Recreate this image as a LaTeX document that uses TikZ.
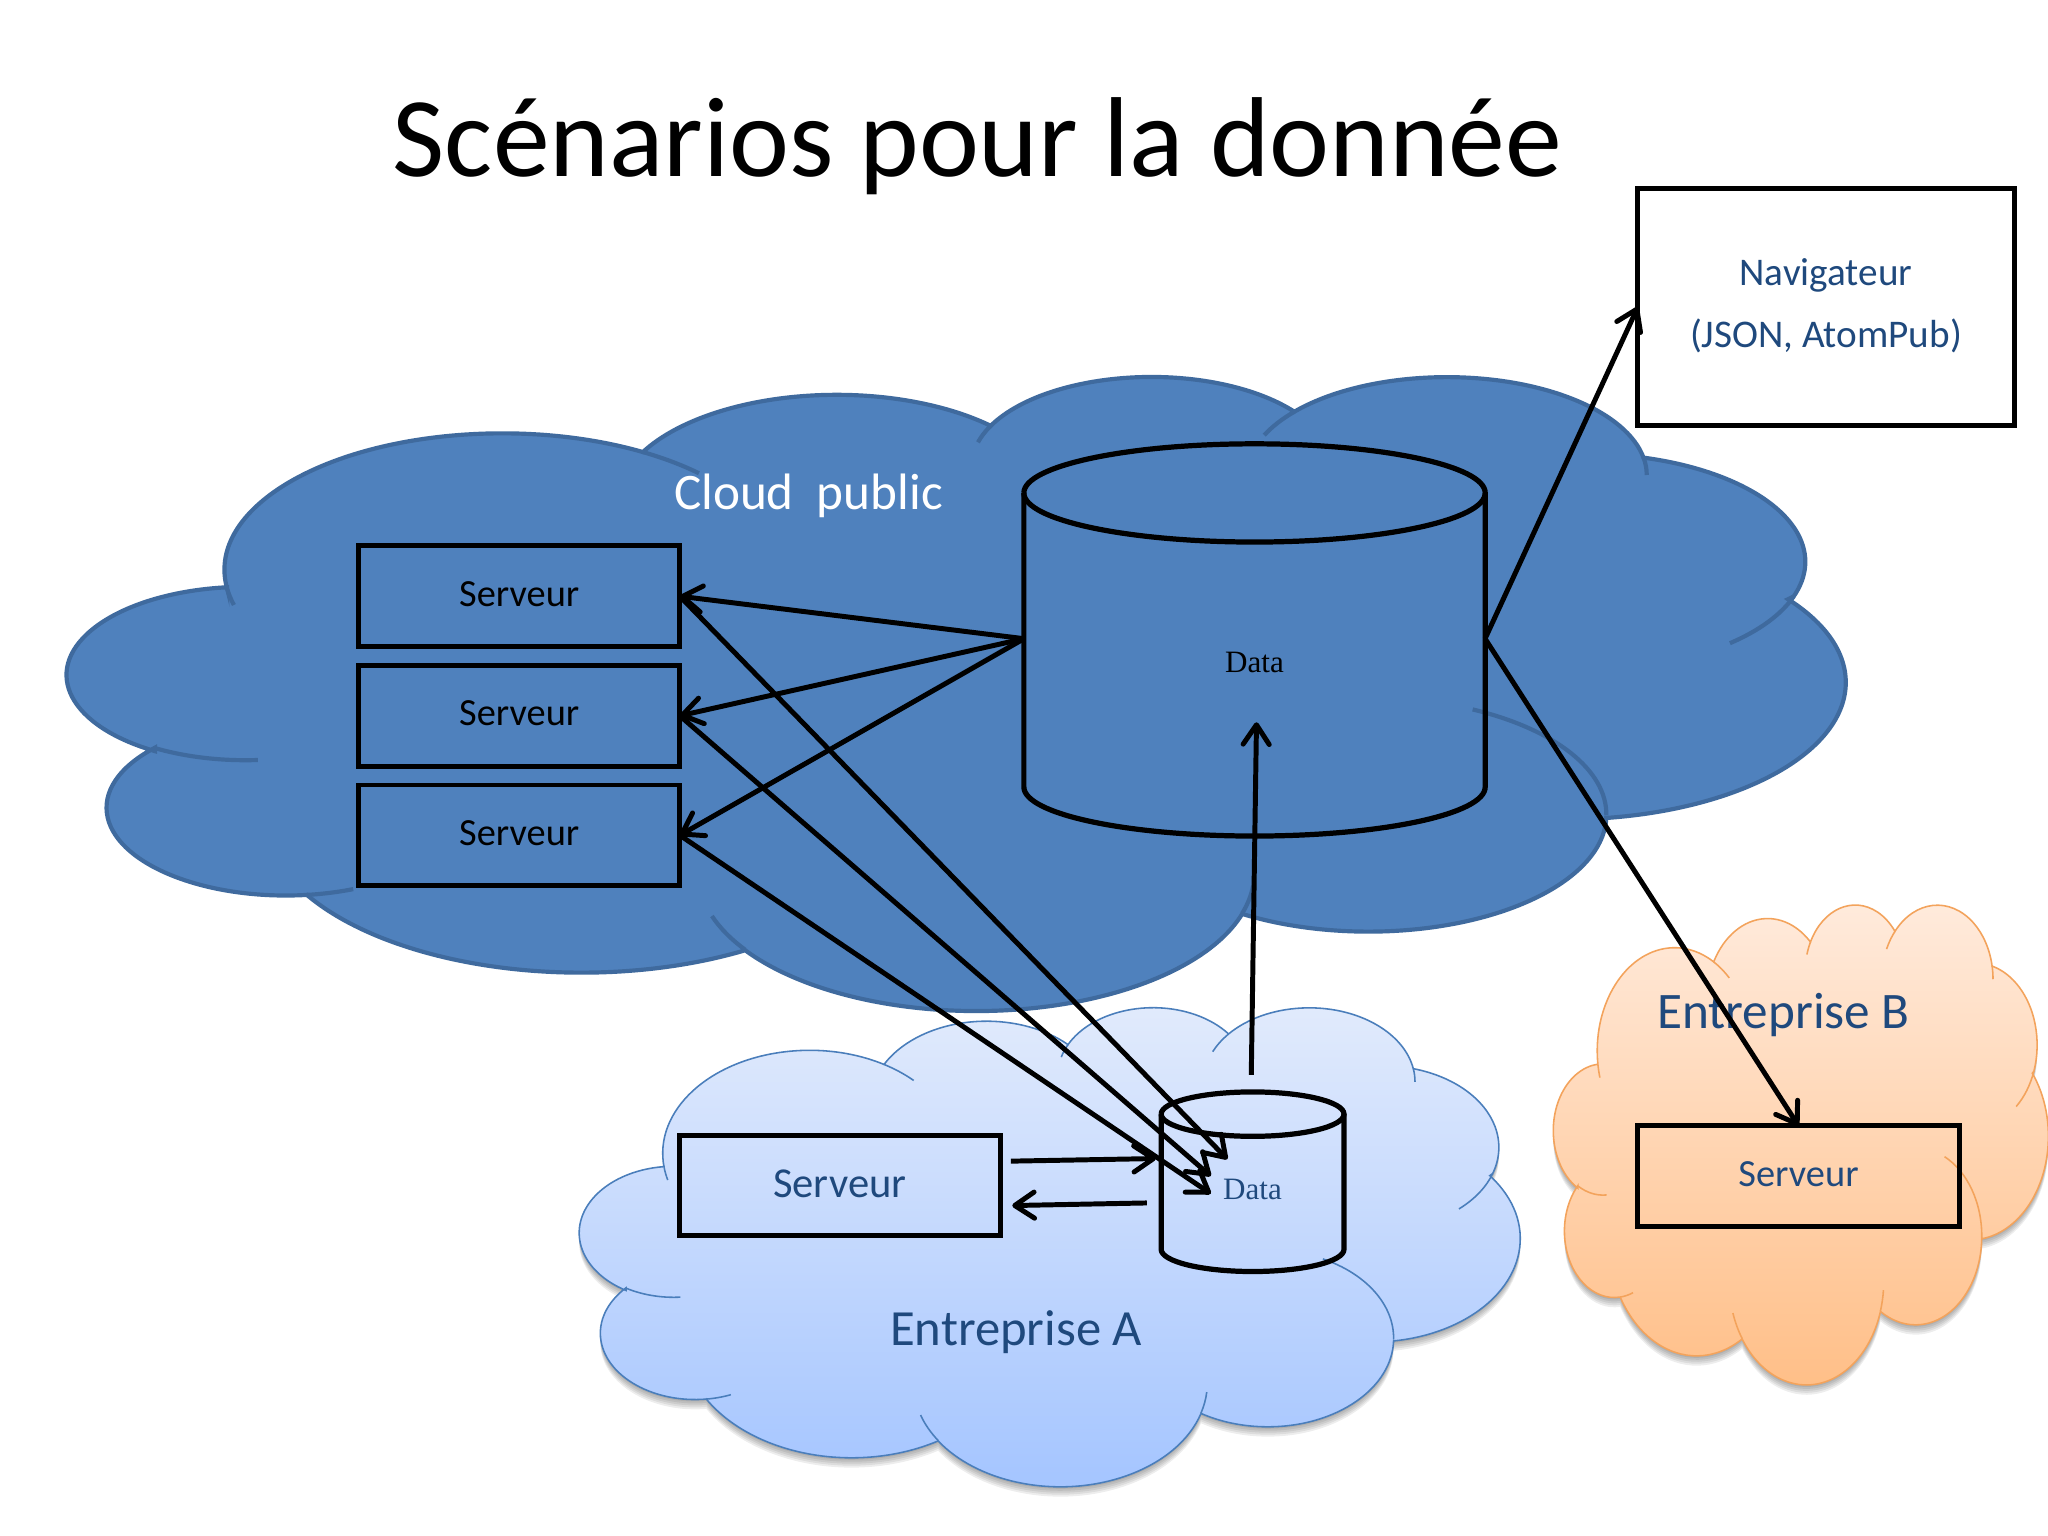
\documentclass[tikz,border=0pt]{standalone}
\usepackage{fontspec}
\setmainfont{Carlito}
\newfontfamily\dataf{Liberation Serif}
\usetikzlibrary{arrows.meta,calc}
\definecolor{pubfill}{HTML}{4F81BD}
\definecolor{publine}{HTML}{3F6A9E}
\definecolor{aline}{HTML}{4A7EBB}
\definecolor{bline}{HTML}{F3A35C}
\definecolor{txtblue}{HTML}{1F497D}
\newcommand\mycloudpath{(4.04,14.37)
 arc[start angle=-187.75,end angle=-59.63,x radius=6.753,y radius=9.19]
 arc[start angle=-152.02,end angle=-45.44,x radius=5.333,y radius=7.267]
 arc[start angle=-153.49,end angle=-37.32,x radius=4.365,y radius=5.945]
 arc[start angle=-139.70,end angle=-10.21,x radius=4.857,y radius=6.595]
 arc[start angle=-74.77,end angle=18.78,x radius=5.333,y radius=7.273]
 -- (41.97,15.12)
 arc[start angle=-37.53,end angle=81.86,x radius=6.775,y radius=9.22]
 -- (37.555,29.72)
 arc[start angle=0.46,end angle=121.98,x radius=5.785,y radius=7.867]
 arc[start angle=16.84,end angle=146.24,x radius=6.752,y radius=9.215]
 arc[start angle=58.98,end angle=150.20,x radius=7.72,y radius=10.543]
 -- (5.98,35.05)
 arc[start angle=83.31,end angle=223.11,x radius=4.36,y radius=5.918]
 -- (2.29,25.36)
 arc[start angle=120.35,end angle=264.11,x radius=4.345,y radius=5.945] -- cycle}
\newcommand\mycloudticks{
 (10.731,13.131)++(172.25:6.753 and 9.19) arc[start angle=172.25,end angle=165,x radius=6.753,y radius=9.19]
 (4.4866,20.0264)++(120.35:4.345 and 5.945) arc[start angle=120.35,end angle=86,x radius=4.345,y radius=5.945]
 (5.4733,29.1724)++(83.31:4.36 and 5.918) arc[start angle=83.31,end angle=68,x radius=4.36,y radius=5.918]
 (22.2437,33.6242)++(146.24:6.752 and 9.215) arc[start angle=146.24,end angle=162,x radius=6.752,y radius=9.215]
 (22.2437,33.6242)++(16.84:6.752 and 9.215) arc[start angle=16.84,end angle=5,x radius=6.752,y radius=9.215]
 (31.7702,29.6206)++(0.46:5.785 and 7.867) arc[start angle=0.46,end angle=-64,x radius=5.785,y radius=7.867]
 (37.0585,12.5972)++(18.78:5.333 and 7.273) arc[start angle=18.78,end angle=49,x radius=5.333,y radius=7.273]
 (33.6792,6.7487)++(-10.21:4.857 and 6.595) arc[start angle=-10.21,end angle=0,x radius=4.857,y radius=6.595]
 (33.6792,6.7487)++(-139.7:4.857 and 6.595) arc[start angle=-139.7,end angle=-156,x radius=4.857,y radius=6.595]
 (26.5031,6.0865)++(-153.49:4.365 and 5.945) arc[start angle=-153.49,end angle=-165,x radius=4.365,y radius=5.945]
 (10.731,13.131)++(-59.63:6.753 and 9.19) arc[start angle=-59.63,end angle=-45,x radius=6.753,y radius=9.19]
}
\newcommand\mycloud[6][]{%
 \ifx&#1&\else
 \foreach \k in {1.5,3,4.5,6,7.5}{%
  \begin{scope}[shift={(#2,#3+\k)},x=1pt,y=1pt,xscale=#4,yscale=-#5]
   \fill[black,opacity=.07] \mycloudpath;
  \end{scope}}%
 \fi
 \begin{scope}[shift={(#2,#3)},x=1pt,y=1pt,xscale=#4,yscale=-#5]
  \path[#6] \mycloudpath;
  \draw[#6,shade=none,fill=none,line cap=butt] \mycloudticks;
 \end{scope}}
\newcommand\mycan[6]{%
 \draw[#1] ($(#2,#3)+(-#4pt,0)$) arc[start angle=180,end angle=-180,x radius=#4pt,y radius=#5pt];
 \draw[#1] ($(#2,#3)+(-#4pt,0)$) -- ($(#2,#6)+(-#4pt,0)$) arc[start angle=180,end angle=360,x radius=#4pt,y radius=#5pt] -- ($(#2,#3)+(#4pt,0)$);}
\tikzset{
 srv/.style={draw=black,line width=1.9pt,rectangle,outer sep=0pt,inner sep=0pt,minimum width=123pt,minimum height=38.5pt,font=\fontsize{14.7}{17}\selectfont},
 canbox/.style={rectangle,inner sep=0pt,outer sep=0pt},
 canline/.style={draw=black,line width=2pt,line join=round},
 arr/.style={black,line width=1.9pt,-{Straight Barb[round,length=7.5pt,width=10pt,line width=1.9pt]}},
 lbl/.style={inner sep=0pt,outer sep=0pt,align=center},
 pubc/.style={fill=pubfill,draw=publine,line width=1.6pt},
 ac/.style={top color=cA1,bottom color=cA2,draw=aline,line width=.6pt},
 bc/.style={top color=cB1,bottom color=cB2,draw=bline,line width=.6pt}
}
\definecolor{cA1}{HTML}{E2EBFC}
\definecolor{cA2}{HTML}{A3C4FF}
\definecolor{cB1}{HTML}{FFEBDD}
\definecolor{cB2}{HTML}{FFBE86}
\begin{document}
\begin{tikzpicture}[x=0.5pt,y=-0.5pt]
\useasboundingbox[fill=white] (0,0) rectangle (1568,1176);
\mycloud[s]{441.1}{770.3}{8.333}{4.292}{ac}
\mycloud[s]{1188}{691.7}{4.384}{4.299}{bc}
\mycloud{46.5}{287}{15.755}{5.68}{pubc}
\node[lbl,font=\fontsize{43.5}{52}\selectfont] (title) at (748.5,112) {Scénarios pour la donnée};
\node[lbl,white,font=\fontsize{19.6}{23}\selectfont] (cloudlbl) at (619,380) {Cloud\ \ public};
\node[lbl,txtblue,font=\fontsize{19.4}{23}\selectfont] (entA) at (778,1020) {Entreprise A};
\node[lbl,txtblue,font=\fontsize{19.6}{23}\selectfont] (entB) at (1365.5,777) {Entreprise B};
\node[srv] (s1) at (397.5,456.5) {\raisebox{1.5pt}{Serveur}};
\node[srv] (s2) at (397.5,548) {\raisebox{1.7pt}{Serveur}};
\node[srv] (s3) at (397.5,639.5) {\raisebox{1.5pt}{Serveur}};
\node[srv,text=txtblue,font=\fontsize{16.3}{19}\selectfont] (sA) at (643,907.5) {\raisebox{1.5pt}{Serveur}};
\node[srv,text=txtblue] (sB) at (1377,900.5) {\raisebox{1.5pt}{Serveur}};
\node[draw=black,line width=1.9pt,rectangle,outer sep=0pt,minimum width=144pt,minimum height=91pt,inner sep=0pt] (nav) at (1398,235) {};
\node[lbl,txtblue,font=\fontsize{15}{23.5}\selectfont] (navt) at (1398,234) {Navigateur\\(JSON, AtomPub)};
\node[canbox,minimum width=176.5pt,minimum height=150pt] (bigdata) at (960.5,489) {};
\node[canbox,minimum width=70pt,minimum height=68.5pt] (smalldata) at (959,905) {};
\mycan{canline}{960.5}{377.4}{88.3}{18.8}{602.5}
\mycan{canline}{959}{853}{35}{8.5}{956.5}
\node[lbl,font=\dataf\fontsize{11.9}{14}\selectfont] (bigt) at (960.5,507) {Data};
\node[lbl,txtblue,font=\dataf\fontsize{11.9}{14}\selectfont] (smallt) at (959,911) {Data};
\coordinate (t1) at (939.7,887.5);
\coordinate (t2) at (927,900.4);
\coordinate (t3) at (927,913.9);
\coordinate (up0) at (958,823);
\coordinate (up1) at (962,553);
\coordinate (a1) at (774,889);
\coordinate (a2) at (885,887);
\coordinate (a3) at (878,921);
\coordinate (a4) at (775,923);
\draw[arr] (bigdata.west) -- (s1.east);
\draw[arr] (bigdata.west) -- (s2.east);
\draw[arr] (bigdata.west) -- (s3.east);
\draw[arr] (s1.east) -- (t1);
\draw[arr] (s2.east) -- (t2);
\draw[arr] (s3.east) -- (t3);
\draw[arr] (bigdata.east) -- (nav.west);
\draw[arr] (bigdata.east) -- (sB.north);
\draw[arr] (up0) -- (up1);
\draw[arr] (a1) -- (a2);
\draw[arr] (a3) -- (a4);
\end{tikzpicture}
\end{document}
